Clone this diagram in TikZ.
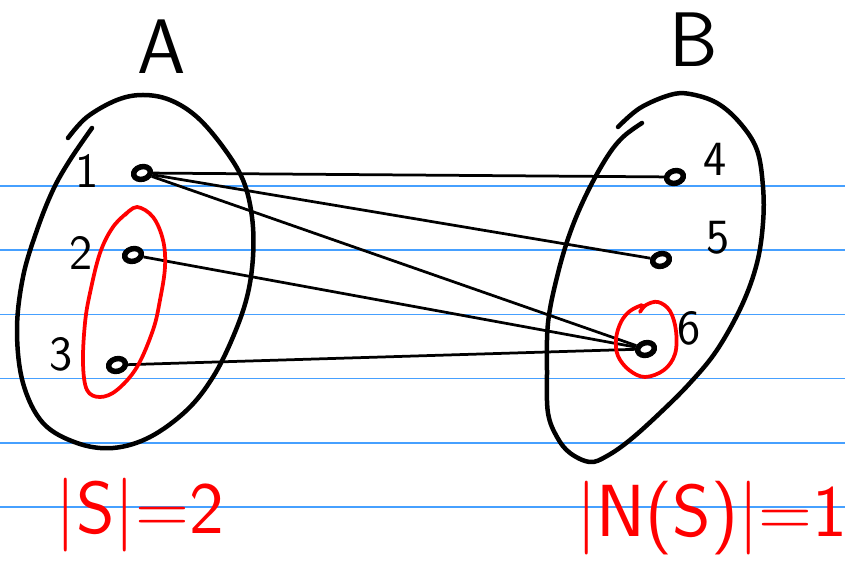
\documentclass[tikz,border=0pt]{standalone}
\usetikzlibrary{shapes.geometric}
\definecolor{ruling}{RGB}{70,160,255}
\begin{document}
\begin{tikzpicture}[x=0.02cm, y=-0.02cm,
    outline/.style={line width=0.9mm, line cap=round, line join=round},
    redline/.style={red, line width=0.75mm, line cap=round, line join=round},
    elem/.style={ellipse, draw, line width=1.1mm, minimum width=3.4mm, minimum height=2.5mm, inner sep=0pt, rotate=15},
    edge/.style={line width=0.55mm},
    digit/.style={font=\sffamily\fontsize{28}{30}\selectfont, inner sep=0pt},
    setname/.style={font=\sffamily\fontsize{44}{46}\selectfont, inner sep=0pt},
    note/.style={red, font=\sffamily\fontsize{42}{44}\selectfont, inner sep=0pt}]
  \useasboundingbox (0,0) rectangle (845,563);
  \fill[white] (0,0) rectangle (845,563);
  % ruled paper
  \foreach \k in {0,...,5}
    \draw[ruling, line width=0.35mm] (0,186+64.2*\k) -- (845,186+64.2*\k);
  % set A
  \draw[outline] plot[smooth, tension=0.6] coordinates {(68,138) (87,117) (117,100) (143,95) (170,100) (197,117) (223,147) (243,180) (252,217) (253,257) (247,297) (233,337) (213,377) (187,410) (150,437) (113,448) (77,443) (43,423) (23,383) (17,330) (23,277) (37,230) (53,190) (70,160) (92,128)};
  % set B
  \draw[outline] plot[smooth, tension=0.6] coordinates {(618,127) (640,108) (670,95) (690,94) (717,103) (740,123) (757,150) (763,187) (763,223) (757,263) (742,305) (717,350) (690,383) (660,413) (630,440) (607,456) (590,462) (570,453) (557,437) (548,413) (547,373) (548,323) (557,277) (570,233) (587,193) (607,157) (623,137) (642,123)};
  \node[setname] (nameA) at (162,47) {A};
  \node[setname] (nameB) at (694,40) {B};
  % elements
  \node[elem] (a1) at (142,173) {};
  \node[elem] (a2) at (133,255) {};
  \node[elem] (a3) at (117,365) {};
  \node[elem] (b4) at (675,177) {};
  \node[elem] (b5) at (661,260) {};
  \node[elem] (b6) at (646,349) {};
  \node[digit] (la1) at (87,171) {1};
  \node[digit] (la2) at (81,253) {2};
  \node[digit] (la3) at (61,354) {3};
  \node[digit] (lb4) at (715,159) {4};
  \node[digit] (lb5) at (718,238) {5};
  \node[digit] (lb6) at (689,328) {6};
  % edges
  \draw[edge] (a1) -- (b4);
  \draw[edge] (a1) -- (b5);
  \draw[edge] (a1) -- (b6);
  \draw[edge] (a2) -- (b6);
  \draw[edge] (a3) -- (b6);
  % S and N(S)
  \draw[redline] plot[smooth, tension=0.6] coordinates {(125,215) (137,207) (153,217) (163,240) (165,267) (160,300) (153,330) (137,367) (117,390) (100,397) (87,390) (83,363) (85,323) (90,293) (100,253) (113,227) (128,212)};
  \draw[redline] plot[smooth, tension=0.6] coordinates {(640,312) (646,305) (658,302) (670,311) (676,331) (675,354) (664,370) (645,377) (629,370) (618,356) (616,339) (621,322) (630,311) (642,305)};
  \node[note] (sizeS) at (140,515) {|S|=2};
  \node[note] (sizeN) at (712,518) {|N(S)|=1};
\end{tikzpicture}
\end{document}
